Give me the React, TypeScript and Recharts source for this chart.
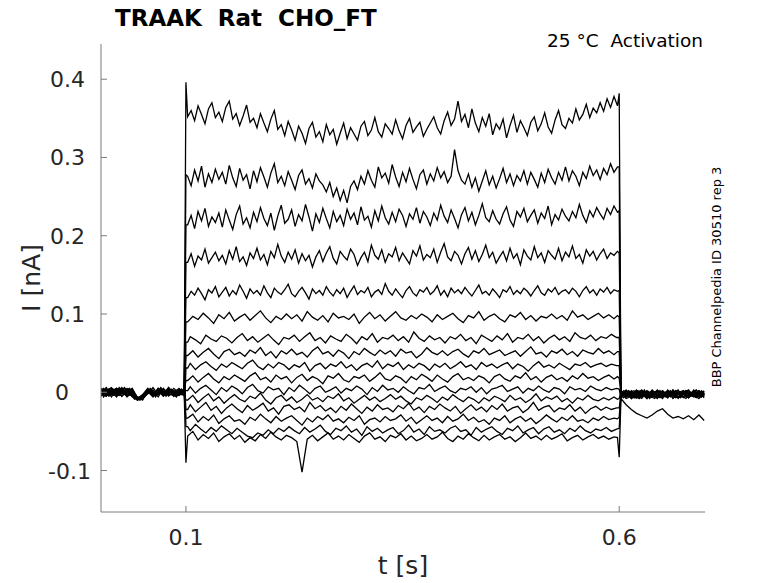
import React from 'react';
import { LineChart, Line, XAxis, YAxis } from 'recharts';

// sample times in ms. Fine grid for the big upper traces, two staggered coarse grids for the rest
const T_FINE = [
  2, 8, 14, 20, 26, 32, 38, 44, 50, 56, 62, 68, 74, 80, 86, 92, 98,
  100,
  102, 106, 110, 114, 118, 122, 126, 130, 134, 138,
  142, 146, 150, 154, 158, 162, 166, 170, 174, 178,
  182, 186, 190, 194, 198, 202, 206, 210, 214, 218,
  222, 226, 230, 234, 238, 242, 246, 250, 254, 258,
  262, 266, 270, 274, 278, 282, 286, 290, 294, 298,
  302, 306, 310, 314, 318, 322, 326, 330, 334, 338,
  342, 346, 350, 354, 358, 362, 366, 370, 374, 378,
  382, 386, 390, 394, 398, 402, 406, 410, 414, 418,
  422, 426, 430, 434, 438, 442, 446, 450, 454, 458,
  462, 466, 470, 474, 478, 482, 486, 490, 494, 498,
  502, 506, 510, 514, 518, 522, 526, 530, 534, 538,
  542, 546, 550, 554, 558, 562, 566, 570, 574, 578,
  582, 586, 590, 594, 598,
  600,
  602, 608, 614, 620, 626, 632, 638, 644, 650, 656, 662, 668, 674, 680, 686, 692, 698,
];
const T_A = [
  2, 8, 14, 20, 26, 32, 38, 44, 50, 56, 62, 68, 74, 80, 86, 92, 98,
  100,
  102, 108, 114, 120, 126, 132, 138, 144, 150, 156,
  162, 168, 174, 180, 186, 192, 198, 204, 210, 216,
  222, 228, 234, 240, 246, 252, 258, 264, 270, 276,
  282, 288, 294, 300, 306, 312, 318, 324, 330, 336,
  342, 348, 354, 360, 366, 372, 378, 384, 390, 396,
  402, 408, 414, 420, 426, 432, 438, 444, 450, 456,
  462, 468, 474, 480, 486, 492, 498, 504, 510, 516,
  522, 528, 534, 540, 546, 552, 558, 564, 570, 576,
  582, 588, 594, 598,
  600,
  602, 608, 614, 620, 626, 632, 638, 644, 650, 656, 662, 668, 674, 680, 686, 692, 698,
];
const T_B = [
  2, 5, 11, 17, 23, 29, 35, 41, 47, 53, 59, 65, 71, 77, 83, 89, 95, 99,
  100,
  102, 105, 111, 117, 123, 129, 135, 141, 147, 153,
  159, 165, 171, 177, 183, 189, 195, 201, 207, 213,
  219, 225, 231, 237, 243, 249, 255, 261, 267, 273,
  279, 285, 291, 297, 303, 309, 315, 321, 327, 333,
  339, 345, 351, 357, 363, 369, 375, 381, 387, 393,
  399, 405, 411, 417, 423, 429, 435, 441, 447, 453,
  459, 465, 471, 477, 483, 489, 495, 501, 507, 513,
  519, 525, 531, 537, 543, 549, 555, 561, 567, 573,
  579, 585, 591, 597,
  600,
  602, 605, 611, 617, 623, 629, 635, 641, 647, 653, 659, 665, 671, 677, 683, 689, 695, 698,
];

// currents in pA, one array per voltage step
const TRACE_0 = [
  2, -5, 4, -1, 6, -3, 1, -8, -7, 3, -4, 5, -2, 4, -5, 2, 0,
  396,
  352, 360, 347, 366, 355, 343, 362, 370, 351, 358,
  346, 364, 372, 349, 356, 341, 353, 367, 345, 350,
  338, 356, 344, 333, 349, 360, 336, 342, 328, 346,
  335, 322, 340, 331, 318, 337, 345, 326, 333, 320,
  342, 329, 336, 317, 331, 344, 324, 338, 330, 322,
  340, 346, 328, 335, 351, 333, 326, 343, 337, 330,
  348, 334, 324, 341, 350, 332, 339, 345, 327, 336,
  344, 352, 338, 330, 347, 358, 341, 349, 372, 346,
  355, 338, 362, 344, 333, 351, 340, 356, 329, 343,
  336, 349, 325, 341, 354, 332, 347, 338, 328, 345,
  352, 334, 343, 357, 339, 331, 348, 360, 342, 337,
  350, 344, 362, 348, 355, 368, 351, 363, 357, 370,
  359, 375, 364, 378, 366,
  382,
  -4, 3, -6, 1, -2, -8, 2, -5, 0, -7, 3, -3, -6, 1, -4, 2, -5,
];
const TRACE_1 = [
  -3, 4, -6, 2, -1, 5, -4, -9, -5, -2, 6, -3, 3, -5, 1, 4, -2,
  278,
  276, 264, 284, 270, 289, 262, 279, 268, 285, 272,
  281, 266, 290, 274, 263, 286, 271, 278, 260, 283,
  269, 287, 275, 262, 280, 292, 268, 276, 264, 282,
  271, 259, 277, 284, 266, 273, 261, 279, 270, 265,
  256, 268, 250, 261, 245, 258, 242, 263, 270, 259,
  276, 266, 283, 271, 262, 288, 274, 280, 267, 291,
  275, 263, 281, 269, 286, 272, 260, 278, 284, 266,
  279, 270, 287, 274, 282, 268, 276, 310, 283, 271,
  266, 279, 262, 274, 257, 270, 283, 265, 276, 261,
  273, 286, 268, 279, 264, 277, 270, 283, 266, 281,
  272, 262, 280, 268, 285, 274, 266, 281, 271, 288,
  270, 283, 276, 264, 281, 273, 289, 277, 284, 272,
  286, 278, 292, 281, 288,
  288,
  1, -6, 2, -4, -8, 0, -5, 3, -3, -6, 1, -7, 2, -2, -6, 0, -3,
];
const TRACE_2 = [
  5, -2, 1, -5, 3, -6, 2, -6, -10, 4, -1, 2, -5, 6, -2, -4, 3,
  214,
  214, 226, 209, 231, 219, 235, 212, 224, 217, 229,
  211, 233, 220, 208, 227, 238, 215, 223, 210, 230,
  218, 236, 222, 213, 229, 207, 225, 239, 216, 221,
  233, 212, 227, 219, 240, 224, 206, 228, 217, 235,
  222, 210, 231, 218, 226, 213, 234, 221, 229, 214,
  237, 220, 225, 211, 232, 219, 238, 223, 215, 230,
  218, 234, 226, 212, 228, 221, 236, 216, 231, 224,
  213, 229, 220, 239, 225, 217, 233, 222, 210, 227,
  236, 219, 230, 214, 226, 241, 223, 218, 232, 221,
  215, 228, 237, 220, 212, 231, 224, 235, 218, 226,
  233, 216, 229, 222, 238, 214, 227, 220, 234, 225,
  219, 231, 223, 240, 226, 217, 232, 224, 236, 228,
  221, 235, 227, 238, 230,
  232,
  -7, -1, -4, 3, -6, 1, -3, -8, 2, -4, -1, 3, -7, -3, 1, -5, 2,
];
const TRACE_3 = [
  -1, 6, -3, 4, -5, 1, -2, -10, -6, 2, -5, 4, 1, -3, 5, -1, -4,
  166,
  166, 177, 161, 174, 169, 183, 165, 172, 179, 168,
  175, 164, 181, 170, 186, 167, 173, 162, 178, 171,
  184, 169, 176, 163, 180, 172, 189, 174, 166, 179,
  170, 182, 165, 177, 168, 175, 160, 173, 181, 167,
  178, 186, 171, 164, 180, 174, 169, 183, 176, 162,
  172, 179, 167, 188, 175, 170, 182, 166, 177, 173,
  185, 168, 178, 171, 164, 181, 174, 187, 169, 176,
  172, 183, 166, 179, 190, 173, 168, 180, 175, 164,
  177, 185, 170, 181, 167, 176, 188, 172, 179, 165,
  173, 180, 168, 184, 171, 177, 163, 182, 174, 169,
  186, 172, 178, 166, 181, 175, 170, 184, 168, 179,
  173, 187, 171, 176, 165, 182, 174, 180, 169, 177,
  183, 171, 178, 175, 180,
  178,
  2, -5, 0, -7, 1, -4, -6, 2, -5, 0, -7, -2, 1, -6, -3, -8, -1,
];
const TRACE_4 = [
  3, -4, 5, -2, 1, -5, 4, -7, -9, -1, 3, -6, 5, -2, -4, 3, 1,
  121,
  121, 129, 124, 133, 126, 118, 131, 127, 135, 122,
  128, 134, 123, 130, 125, 137, 129, 120, 132, 126,
  130, 124, 136, 127, 121, 133, 128, 125, 131, 138,
  126, 122, 129, 134, 127, 119, 132, 126, 130, 124,
  135, 128, 123, 131, 126, 133, 121, 129, 136, 125,
  130, 127, 134, 122, 128, 131, 125, 139, 129, 124,
  132, 126, 121, 130, 135, 127, 123, 131, 128, 134,
  125, 129, 136, 124, 130, 122, 133, 127, 131, 126,
  134, 128, 123, 130, 137, 126, 129, 124, 132, 127,
  121, 131, 128, 135, 125, 130, 126, 133, 129, 123,
  130, 136, 127, 124, 132, 128, 134, 125, 129, 131,
  126, 133, 129, 122, 130, 135, 127, 131, 124, 132,
  128, 134, 126, 131, 129,
  130,
  -3, 1, -8, -2, 3, -6, 0, -4, -7, 2, -3, -6, -1, 3, -5, -2, -6,
];
const TRACE_5 = [
  -4, 2, 6, -3, 4, -1, 5, -7, -9, 2, -5, 4, -2, 6, -3, 1, -2,
  90,
  90, 97, 93, 101, 95, 88, 99, 94, 102, 91,
  96, 100, 92, 98, 104, 95, 89, 97, 93, 100,
  94, 99, 91, 103, 96, 92, 98, 90, 101, 95,
  97, 93, 100, 88, 96, 102, 94, 99, 91, 97,
  103, 95, 92, 98, 94, 100, 96, 90, 99, 93,
  97, 101, 94, 89, 98, 95, 103, 92, 97, 100,
  94, 90, 99, 96, 102, 93, 98, 91, 97, 95,
  100, 94, 98, 92, 104, 96, 99, 93, 97, 101,
  95, 99, 94, 98,
  96,
  2, -3, -7, 0, -5, 2, -2, -7, -3, 2, -8, -2, 0, -6, 3, -4, -1,
];
const TRACE_6 = [
  5, -1, -4, 3, -2, 6, -3, -8, -6, -2, 3, -6, 5, -1, 3, -4, 2, -1,
  64,
  64, 71, 67, 62, 73, 68, 65, 72, 69, 63,
  70, 75, 66, 71, 64, 69, 74, 67, 61, 70,
  68, 73, 65, 71, 76, 66, 70, 63, 72, 68,
  65, 74, 69, 62, 71, 67, 75, 64, 70, 68,
  73, 66, 71, 64, 77, 69, 65, 72, 67, 70,
  63, 71, 68, 74, 66, 70, 62, 73, 69, 65,
  72, 67, 75, 64, 70, 68, 74, 66, 71, 63,
  69, 73, 67, 71, 65, 76, 70, 68, 73, 66,
  71, 69, 74, 70,
  70,
  -3, -7, 1, -2, -8, -1, -5, 0, -7, -3, 1, -7, -5, 2, -4, -6, 0, -3,
];
const TRACE_7 = [
  -2, 3, 1, -6, 5, -4, 2, -10, -5, 4, -1, 2, -4, 3, -5, 2, 1,
  47,
  47, 53, 45, 51, 56, 49, 43, 52, 55, 48,
  51, 46, 54, 50, 57, 47, 52, 44, 53, 49,
  55, 48, 51, 45, 53, 58, 49, 52, 46, 54,
  50, 43, 52, 48, 56, 51, 47, 54, 49, 53,
  46, 55, 50, 52, 44, 49, 57, 51, 48, 53,
  47, 52, 55, 49, 45, 53, 50, 56, 48, 51,
  54, 47, 50, 53, 46, 52, 58, 49, 51, 45,
  53, 50, 55, 48, 52, 46, 54, 51, 49, 56,
  50, 53, 48, 52,
  52,
  -6, 0, -3, -6, 2, -6, 1, -4, 2, -5, -4, 0, 2, -7, -2, 1, -5,
];
const TRACE_8 = [
  1, -6, 4, 1, -3, 5, -2, -9, -7, -5, 4, -3, 6, -2, 2, -5, 3, 0,
  31,
  31, 37, 29, 35, 39, 33, 28, 36, 32, 38,
  34, 30, 37, 41, 33, 29, 36, 31, 38, 35,
  29, 35, 32, 38, 27, 34, 37, 30, 36, 33,
  39, 31, 35, 28, 34, 37, 32, 40, 30, 36,
  33, 38, 29, 35, 31, 37, 34, 28, 36, 32,
  37, 30, 34, 39, 32, 35, 29, 38, 33, 36,
  31, 35, 38, 30, 36, 33, 27, 34, 39, 32,
  35, 31, 37, 33, 29, 36, 34, 38, 32, 35,
  37, 33, 36, 34,
  34,
  3, -4, -1, 2, -4, -2, -7, -1, -6, 0, -1, -4, -7, 1, -3, -5, 2, -2,
];
const TRACE_9 = [
  -5, 1, -2, 5, 2, -4, 3, -7, -6, 3, -4, 5, -1, 4, -2, -4, 2,
  15,
  15, 21, 13, 19, 24, 17, 12, 20, 16, 22,
  18, 14, 21, 25, 16, 19, 13, 22, 17, 20,
  12, 19, 23, 15, 20, 17, 11, 21, 18, 24,
  16, 13, 20, 18, 22, 14, 19, 25, 17, 15,
  21, 18, 12, 20, 16, 23, 19, 14, 22, 17,
  13, 20, 24, 16, 19, 15, 21, 18, 12, 20,
  23, 17, 14, 21, 18, 25, 16, 20, 13, 19,
  22, 16, 19, 14, 21, 17, 24, 18, 20, 15,
  19, 22, 17, 20,
  18,
  -2, 1, -8, -3, 0, -8, -1, 2, -2, -7, 3, -8, -1, -4, 1, -6, -3,
];
const TRACE_10 = [
  3, 4, -5, -1, -4, 2, 5, -6, -9, -3, 2, -5, 3, -5, 3, 1, -3, 2,
  2,
  2, 7, -1, 5, 9, 3, -3, 6, 1, 8,
  4, -2, 6, 10, 2, -1, 7, 3, 5, -3,
  6, 1, 9, 4, -2, 5, 8, 0, 3, 7,
  -1, 5, 2, 8, 4, -3, 6, 1, 9, 3,
  5, 0, 7, 2, -2, 6, 4, 10, 1, 5,
  8, 2, -1, 5, 3, 7, 0, 6, -2, 4,
  6, 9, 1, 4, 7, -1, 5, 2, 8, 3,
  0, 6, 4, -2, 7, 3, 5, 1, 8, 4,
  2, 6, 3, 5,
  4,
  -8, -2, 2, -5, -6, 1, -4, -6, 0, -1, -6, 2, -4, -8, 0, -3, -6, 1,
];
const TRACE_11 = [
  -1, -3, 3, 4, 1, -5, -2, -9, -4, 1, -6, 3, -3, 2, -2, 5, -1,
  -10,
  -10, -4, -13, -7, -2, -11, -6, -14, -8, -3,
  -9, -12, -5, -8, -1, -10, -15, -7, -4, -11,
  -6, -13, -9, -3, -10, -7, -12, -5, -8, -2,
  -11, -7, -14, -9, -4, -10, -6, -12, -8, -3,
  -9, -5, -11, -15, -7, -10, -4, -8, -13, -6,
  -10, -3, -8, -12, -6, -9, -14, -7, -11, -5,
  -8, -12, -4, -10, -7, -13, -9, -2, -11, -6,
  -9, -5, -12, -8, -14, -7, -10, -4, -9, -11,
  -7, -10, -6, -9,
  -8,
  0, -8, -5, 1, -2, -5, 3, -3, -8, 3, -3, -3, 1, -6, -2, 2, -7,
];
const TRACE_12 = [
  4, 2, -1, -4, 6, -2, 1, -6, -8, -4, 1, -2, 4, -3, 1, -6, 4, -2,
  -22,
  -22, -16, -25, -19, -13, -23, -18, -27, -20, -15,
  -21, -26, -17, -23, -19, -14, -24, -20, -28, -18,
  -16, -22, -19, -25, -13, -21, -17, -24, -20, -26,
  -18, -23, -15, -21, -27, -19, -24, -16, -22, -20,
  -25, -17, -21, -14, -23, -19, -26, -18, -22, -15,
  -20, -24, -18, -27, -21, -16, -23, -19, -25, -17,
  -22, -15, -24, -20, -18, -26, -21, -13, -23, -19,
  -17, -25, -20, -22, -16, -24, -19, -27, -21, -18,
  -23, -19, -22, -20,
  -20,
  -4, 2, 0, -7, -7, 3, -8, -2, 1, -5, 0, -6, -6, 2, -3, -7, 1, -4,
];
const TRACE_13 = [
  -3, -1, 5, 2, -5, 3, -4, -8, -3, 5, -3, 4, -5, 5, -3, 1, -4,
  -33,
  -33, -28, -38, -31, -36, -29, -40, -34, -30, -37,
  -35, -41, -32, -36, -28, -34, -39, -31, -37, -33,
  -30, -36, -42, -33, -38, -31, -35, -29, -37, -34,
  -39, -32, -36, -30, -41, -35, -33, -38, -31, -36,
  -34, -29, -37, -32, -40, -35, -30, -36, -33, -39,
  -31, -37, -34, -28, -36, -32, -38, -35, -41, -33,
  -36, -30, -39, -34, -31, -37, -33, -40, -35, -29,
  -34, -38, -32, -36, -30, -37, -35, -39, -33, -36,
  -31, -35, -33, -34,
  -32,
  1, -6, -2, 2, 1, -6, -2, 1, -5, -3, -5, 1, -2, -7, 2, -4, -1,
];
const TRACE_14 = [
  2, 5, -3, -3, 3, -1, 4, -7, -10, -1, 5, -4, 1, -1, 4, -2, 3, 1,
  -44,
  -44, -49, -41, -47, -52, -45, -50, -43, -48, -53,
  -46, -51, -56, -58, -52, -55, -48, -53, -46, -50,
  -44, -49, -53, -45, -51, -47, -42, -50, -54, -46,
  -49, -43, -51, -47, -55, -44, -50, -46, -52, -48,
  -45, -53, -49, -42, -51, -47, -54, -44, -50, -48,
  -52, -46, -43, -50, -48, -55, -45, -51, -47, -44,
  -50, -54, -46, -49, -43, -52, -48, -45, -53, -47,
  -44, -51, -48, -53, -46, -50, -43, -49, -52, -47,
  -49, -45, -50, -47,
  -46,
  -6, -3, 1, -4, -3, 0, -5, -8, 2, -6, 2, -4, 0, -5, -1, 3, -6, -2,
];
const TRACE_15 = [
  -2, -5, 1, 5, -2, 4, -3, -10, -5, 3, -2, 1, -2, 3, -1, -4, 0,
  -90,
  -56, -50, -61, -54, -59, -52, -63, -57, -53, -60,
  -55, -64, -58, -62, -54, -59, -51, -57, -61, -55,
  -58, -63, -102, -60, -55, -62, -57, -52, -60, -56,
  -61, -54, -59, -64, -56, -52, -60, -57, -63, -55,
  -58, -53, -61, -56, -62, -59, -54, -60, -57, -51,
  -59, -63, -56, -60, -53, -58, -62, -55, -61, -57,
  -54, -60, -57, -63, -58, -52, -59, -56, -61, -55,
  -60, -57, -53, -62, -58, -55, -61, -57, -54, -59,
  -56, -60, -57, -58,
  -83,
  -8, -16, -22, -27, -30, -33, -29, -24, -21, -28, -33, -31, -34, -30, -35, -29, -36,
];

const SERIES = [
  { times: T_FINE, values: TRACE_0 },
  { times: T_FINE, values: TRACE_1 },
  { times: T_FINE, values: TRACE_2 },
  { times: T_FINE, values: TRACE_3 },
  { times: T_FINE, values: TRACE_4 },
  { times: T_A, values: TRACE_5 },
  { times: T_B, values: TRACE_6 },
  { times: T_A, values: TRACE_7 },
  { times: T_B, values: TRACE_8 },
  { times: T_A, values: TRACE_9 },
  { times: T_B, values: TRACE_10 },
  { times: T_A, values: TRACE_11 },
  { times: T_B, values: TRACE_12 },
  { times: T_A, values: TRACE_13 },
  { times: T_B, values: TRACE_14 },
  { times: T_A, values: TRACE_15 },
];

const X_TICKS = [0.1, 0.6];
const Y_TICKS = [-0.1, 0, 0.1, 0.2, 0.3, 0.4];

const W = 778;
const H = 583;
const PLOT_LEFT = 101;
const PLOT_RIGHT = 705;
const PLOT_TOP = 44;
const PLOT_BOTTOM = 512;
const FONT = '"DejaVu Sans", sans-serif';
const AXIS_GREY = '#7a7a7a';
const TEXT_DARK = '#262626';

// ms -> s, pA -> nA
const seriesData = SERIES.map(({ times, values }) => {
  const n = Math.min(times.length, values.length);
  return times.slice(0, n).map((ms, i) => ({ t: ms / 1000, v: values[i] / 1000 }));
});

// the y labels in the original sit a little off a common right edge
const yLabelRight = (v: number) => (v === 0 ? 69 : v < 0 ? 91 : 85);

const YTick = ({ y, payload }: any) => (
  <g>
    <line x1={PLOT_LEFT} x2={PLOT_LEFT + 6} y1={y} y2={y} stroke={AXIS_GREY} />
    <text
      x={yLabelRight(payload.value)}
      y={y + 8}
      textAnchor="end"
      fontFamily={FONT}
      fontSize={22}
      fill={TEXT_DARK}
    >
      {String(payload.value)}
    </text>
  </g>
);

const XTick = ({ x, payload }: any) => (
  <g>
    <line x1={x} x2={x} y1={PLOT_BOTTOM} y2={PLOT_BOTTOM - 6} stroke={AXIS_GREY} />
    <text x={x} y={545} textAnchor="middle" fontFamily={FONT} fontSize={22} fill={TEXT_DARK}>
      {String(payload.value)}
    </text>
  </g>
);

export default function App() {
  return (
    <div style={{ position: 'absolute', left: 0, top: 0, width: W, height: H, background: '#fff' }}>
      <LineChart
        width={W}
        height={H}
        margin={{ top: PLOT_TOP, right: W - PLOT_RIGHT, bottom: H - PLOT_BOTTOM - 30, left: PLOT_LEFT - 60 }}
      >
        <XAxis
          dataKey="t"
          type="number"
          domain={[0.002, 0.699]}
          allowDataOverflow
          ticks={X_TICKS}
          height={30}
          axisLine={{ stroke: AXIS_GREY }}
          tickLine={false}
          tick={(p: any) => <XTick {...p} />}
        />
        <YAxis
          type="number"
          domain={[-0.153, 0.445]}
          allowDataOverflow
          ticks={Y_TICKS}
          width={60}
          axisLine={{ stroke: AXIS_GREY }}
          tickLine={false}
          tick={(p: any) => <YTick {...p} />}
        />
        {seriesData.map((d, k) => (
          <Line
            key={k}
            data={d}
            dataKey="v"
            type="linear"
            stroke="#000"
            strokeWidth={1.3}
            dot={false}
            isAnimationActive={false}
          />
        ))}
      </LineChart>
      <svg
        width={W}
        height={H}
        style={{ position: 'absolute', left: 0, top: 0, pointerEvents: 'none' }}
      >
        <text x={115} y={26} fontFamily={FONT} fontWeight="bold" fontSize={23} fill="#000" style={{ whiteSpace: 'pre' }}>
          TRAAK  Rat  CHO_FT
        </text>
        <text x={703} y={47} textAnchor="end" fontFamily={FONT} fontSize={18.5} fill="#000" style={{ whiteSpace: 'pre' }}>
          25 °C  Activation
        </text>
        <text
          transform="translate(721 277) rotate(-90)"
          textAnchor="middle"
          fontFamily={FONT}
          fontSize={13}
          fill="#000"
        >
          BBP Channelpedia ID 30510 rep 3
        </text>
        <text
          transform="translate(40 278) rotate(-90)"
          textAnchor="middle"
          fontFamily={FONT}
          fontSize={25}
          fill={TEXT_DARK}
        >
          I [nA]
        </text>
        <text x={403} y={574} textAnchor="middle" fontFamily={FONT} fontSize={25} fill={TEXT_DARK}>
          t [s]
        </text>
      </svg>
    </div>
  );
}
